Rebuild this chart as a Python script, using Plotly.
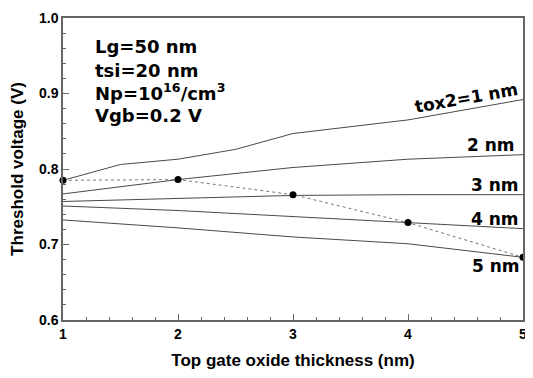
import plotly.graph_objects as go

# Data
tox_x = [1, 2, 3, 4, 5]
vt_tox1_x = [1, 1.5, 2, 2.5, 3, 4, 5]
vt_tox1 = [0.785, 0.806, 0.813, 0.826, 0.847, 0.865, 0.892]
vt_tox2 = [0.767, 0.786, 0.802, 0.813, 0.819]
vt_tox3 = [0.757, 0.761, 0.765, 0.766, 0.766]
vt_tox4 = [0.751, 0.745, 0.737, 0.729, 0.721]
vt_tox5 = [0.7325, 0.722, 0.710, 0.701, 0.683]
# dotted curve through marked points
eq_x = [1, 2, 3, 4, 5]
eq_vt = [0.785, 0.786, 0.766, 0.729, 0.683]

params = ["Lg=50 nm", "tsi=20 nm", "Np=10<sup>16</sup>/cm<sup>3</sup>", "Vgb=0.2 V"]
param_y = [0.962, 0.931, 0.902, 0.871]
curve_labels = ["tox2=1 nm", "2 nm", "3 nm", "4 nm", "5 nm"]
label_x = [4.50, 4.726, 4.758, 4.758, 4.769]
label_y = [0.8946, 0.8323, 0.7785, 0.7342, 0.671]
label_angle = [-10, 0, 0, 0, 0]

FONT = "Liberation Sans, Arial, sans-serif"
WIDE = "DejaVu Sans, Verdana, sans-serif"
line_col = "#4a4a4a"

fig = go.Figure()
fig.add_trace(go.Scatter(x=vt_tox1_x, y=vt_tox1, mode="lines",
                         line=dict(color=line_col, width=1)))
for ys in [vt_tox2, vt_tox3, vt_tox4, vt_tox5]:
    fig.add_trace(go.Scatter(x=tox_x, y=ys, mode="lines",
                             line=dict(color=line_col, width=1)))
fig.add_trace(go.Scatter(x=eq_x, y=eq_vt, mode="lines+markers",
                         line=dict(color="#777777", width=1, dash="dot"),
                         marker=dict(color="black", size=7), cliponaxis=False))

for t, y in zip(params, param_y):
    fig.add_annotation(x=1.257, y=y, xref="x", yref="y", text="<b>" + t + "</b>",
                       showarrow=False, xanchor="left", yanchor="middle",
                       font=dict(family=WIDE, size=18, color="black"))
for t, x, y, a in zip(curve_labels, label_x, label_y, label_angle):
    fig.add_annotation(x=x, y=y, xref="x", yref="y", text="<b>" + t + "</b>",
                       showarrow=False, xanchor="center", yanchor="middle",
                       textangle=a,
                       font=dict(family=WIDE, size=17, color="black"))

axis_common = dict(showline=True, linecolor="#666666", linewidth=1.5, mirror=True,
                   ticks="inside", ticklen=6, tickcolor="#666666", tickwidth=1,
                   showgrid=False, zeroline=False, ticklabeloverflow="allow",
                   tickfont=dict(family=FONT, size=14, color="black"))

fig.update_xaxes(range=[1, 5], dtick=1, tick0=1,
                 minor=dict(dtick=0.2, ticks="inside", ticklen=3, tickcolor="#666666", showgrid=False),
                 title=dict(text="<b>Top gate oxide thickness (nm)</b>",
                            font=dict(family=FONT, size=17, color="black"), standoff=15),
                 tickformat="d", **axis_common)
fig.update_yaxes(range=[0.6, 1.0], dtick=0.1, tick0=0.6,
                 minor=dict(dtick=0.02, ticks="inside", ticklen=3, tickcolor="#666666", showgrid=False),
                 title=dict(text="<b>Threshold voltage (V)</b>",
                            font=dict(family=FONT, size=17, color="black"), standoff=14),
                 tickformat=".1f", **axis_common)
fig.update_xaxes(tickprefix="<b>", ticksuffix="</b>")
fig.update_yaxes(tickprefix="<b>", ticksuffix="</b>")

fig.update_layout(width=521, height=362, showlegend=False,
                  margin=dict(l=55, r=2, t=6, b=45),
                  plot_bgcolor="white", paper_bgcolor="white")

fig.write_html("out.html")
